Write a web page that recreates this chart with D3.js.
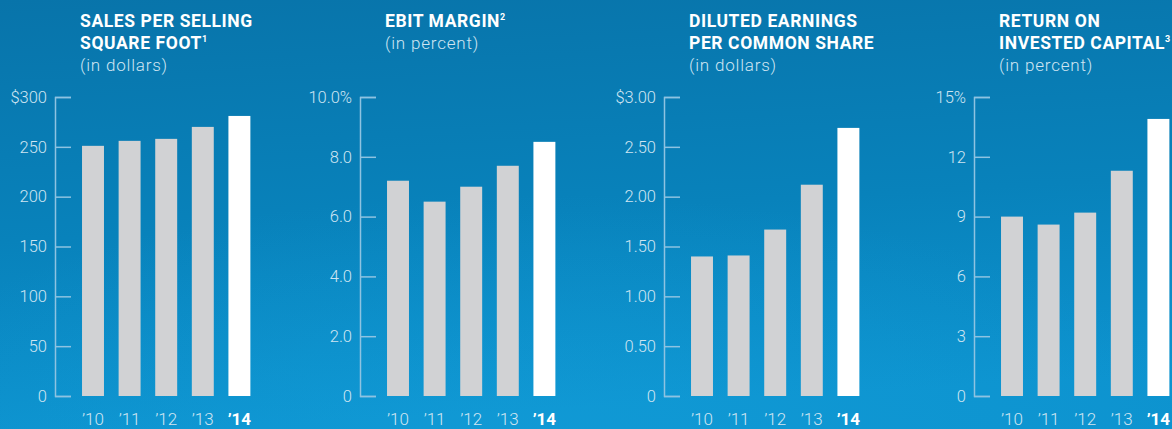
<!DOCTYPE html>
<html>
<head>
<meta charset="utf-8">
<script src="https://cdn.jsdelivr.net/npm/d3@7"></script>
<style>
  html, body { margin: 0; padding: 0; background: #0a7ab2; }
  svg { display: block; font-family: Roboto, "Noto Sans", sans-serif; }
</style>
</head>
<body>
<div class="charts"></div>
<script>
// Data
const years = ["’10", "’11", "’12", "’13", "’14"]

const salesPerSqFt = [251, 256, 258, 270, 281]
const ebitMargin = [7.2, 6.5, 7.0, 7.7, 8.5]
const dilutedEps = [1.40, 1.41, 1.67, 2.12, 2.69]
const roic = [9.0, 8.6, 9.2, 11.3, 13.9]

const salesTicks = [0, 50, 100, 150, 200, 250, 300]
const salesTickLabels = ["0", "50", "100", "150", "200", "250", "$300"]
const ebitTicks = [0, 2, 4, 6, 8, 10]
const ebitTickLabels = ["0", "2.0", "4.0", "6.0", "8.0", "10.0%"]
const epsTicks = [0, 0.5, 1, 1.5, 2, 2.5, 3]
const epsTickLabels = ["0", "0.50", "1.00", "1.50", "2.00", "2.50", "$3.00"]
const roicTicks = [0, 3, 6, 9, 12, 15]
const roicTickLabels = ["0", "3", "6", "9", "12", "15%"]

const panels = [
    {title: ["SALES PER SELLING", "SQUARE FOOT"], note: "1", unit: "(in dollars)",
     values: salesPerSqFt, ticks: salesTicks, labels: salesTickLabels, axisX: 55},
    {title: ["EBIT MARGIN"], note: "2", unit: "(in percent)",
     values: ebitMargin, ticks: ebitTicks, labels: ebitTickLabels, axisX: 360},
    {title: ["DILUTED EARNINGS", "PER COMMON SHARE"], note: "", unit: "(in dollars)",
     values: dilutedEps, ticks: epsTicks, labels: epsTickLabels, axisX: 664},
    {title: ["RETURN ON", "INVESTED CAPITAL"], note: "3", unit: "(in percent)",
     values: roic, ticks: roicTicks, labels: roicTickLabels, axisX: 974}
]

// Svg initialization
const width = 1172
const height = 429
const svg = d3.select(".charts").append("svg")
    .attr("width", width)
    .attr("height", height)
    .attr("viewBox", [0, 0, width, height])

// Background gradient
const defs = svg.append("defs")
const grad = defs.append("linearGradient")
    .attr("id", "bg")
    .attr("x1", 0).attr("y1", 0).attr("x2", 0.15).attr("y2", 1)
grad.append("stop").attr("offset", "0%").attr("stop-color", "#0874aa")
grad.append("stop").attr("offset", "55%").attr("stop-color", "#0882bb")
grad.append("stop").attr("offset", "100%").attr("stop-color", "#0d93cf")

const glow = defs.append("radialGradient")
    .attr("id", "glow")
    .attr("cx", 0.45).attr("cy", 1.05).attr("r", 0.6)
glow.append("stop").attr("offset", "0%").attr("stop-color", "#14a0db").attr("stop-opacity", 0.5)
glow.append("stop").attr("offset", "100%").attr("stop-color", "#14a0db").attr("stop-opacity", 0)

svg.append("rect").attr("width", width).attr("height", height).attr("fill", "url(#bg)")
svg.append("rect").attr("width", width).attr("height", height).attr("fill", "url(#glow)")

// Shared vertical range
const yTop = 97
const yBottom = 396

panels.forEach(p => {
    const g = svg.append("g")

    const y = d3.scaleLinear()
        .domain([0, d3.max(p.ticks)])
        .range([yBottom, yTop])

    const x = d3.scaleBand()
        .domain(years)
        .range([p.axisX + 19.7, p.axisX + 202.7])
        .paddingInner(0.4)
        .paddingOuter(0.2)

    // Title
    const titleX = p.axisX + 25
    const title = g.append("text")
        .attr("x", titleX)
        .attr("fill", "#fff")
        .attr("font-weight", 700)
        .attr("font-size", 17.5)
        .attr("letter-spacing", 0.6)
    p.title.forEach((line, i) => {
        title.append("tspan")
            .attr("x", titleX)
            .attr("y", 27 + i * 22)
            .text(line)
        if (i === p.title.length - 1 && p.note) {
            title.append("tspan")
                .attr("font-size", 9)
                .attr("dy", -7)
                .text(p.note)
        }
    })
    g.append("text")
        .attr("x", titleX)
        .attr("y", 27 + p.title.length * 22)
        .attr("fill", "#cfe5f2")
        .attr("font-weight", 300)
        .attr("font-size", 17)
        .attr("letter-spacing", 0.8)
        .text(p.unit)

    // Y axis
    const axis = d3.axisLeft(y)
        .tickValues(p.ticks)
        .tickFormat((d, i) => p.labels[i])
        .tickSize(-16)
        .tickPadding(8)
    const ax = g.append("g")
        .attr("transform", `translate(${p.axisX},0)`)
        .call(axis)
    ax.selectAll("path, line")
        .attr("stroke", "#8ec3e1")
        .attr("stroke-width", 1.5)
    ax.selectAll("text")
        .attr("fill", "#cfe5f2")
        .attr("font-size", 16.5)
        .attr("font-weight", 300)
        .attr("font-family", "Roboto, sans-serif")

    // Bars
    g.selectAll("rect")
        .data(p.values)
        .join("rect")
        .attr("x", (d, i) => x(years[i]))
        .attr("y", d => y(d))
        .attr("width", x.bandwidth())
        .attr("height", d => y(0) - y(d))
        .attr("fill", (d, i) => i === years.length - 1 ? "#ffffff" : "#d1d2d4")

    // Year labels
    g.selectAll(".year")
        .data(years)
        .join("text")
        .attr("class", "year")
        .attr("x", d => x(d) + x.bandwidth() / 2)
        .attr("y", 425)
        .attr("text-anchor", "middle")
        .attr("font-size", 17)
        .attr("font-weight", (d, i) => i === years.length - 1 ? 700 : 300)
        .attr("fill", (d, i) => i === years.length - 1 ? "#ffffff" : "#cfe5f2")
        .text(d => d)
})
</script>
</body>
</html>
